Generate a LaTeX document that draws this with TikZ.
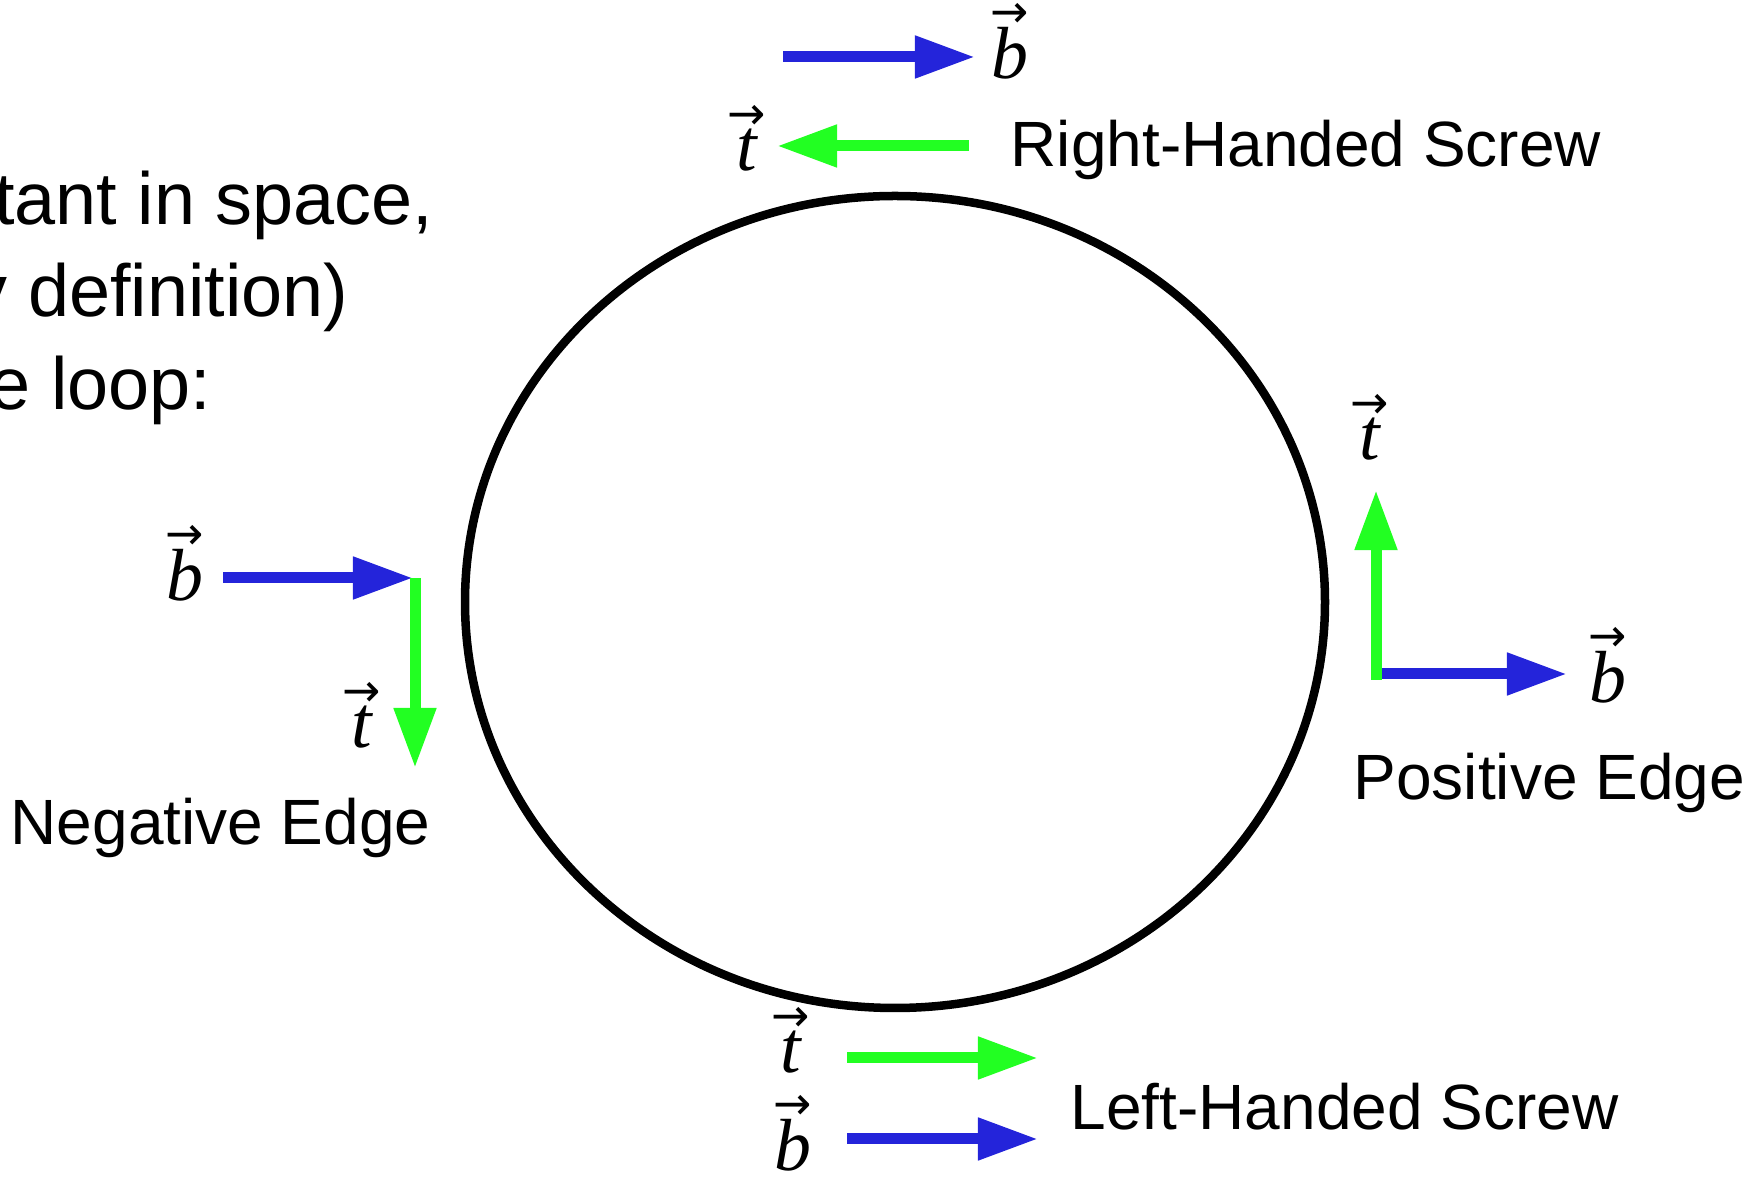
\documentclass[tikz,border=0pt]{standalone}
\usepackage{fontspec}
\setmainfont{Liberation Sans}
\newfontfamily\vecfont{Liberation Serif}
\newfontfamily\flechefont{DejaVu Sans}
\usetikzlibrary{arrows.meta}
\definecolor{cbleu}{RGB}{36,36,218}
\definecolor{cvert}{RGB}{34,255,34}
\newsavebox\lettrebox
\newcommand{\vlab}[1]{\sbox\lettrebox{\vecfont\itshape #1}%
  \rlap{\makebox[\wd\lettrebox]{\raisebox{\ht\lettrebox}{\flechefont\fontsize{13}{13}\selectfont →}}}%
  \usebox\lettrebox}

\begin{document}
\begin{tikzpicture}[x=0.01cm, y=-0.01cm, >={Triangle[length=6mm,width=4mm]},
  fleche/.style={->, line width=1.1mm},
  etiq/.style={inner sep=0pt, anchor=base, font=\fontsize{21}{25}\selectfont},
  titre/.style={inner sep=0pt, anchor=base west, font=\fontsize{18.2}{22}\selectfont},
  texte/.style={inner sep=0pt, anchor=base east, font=\fontsize{21}{25}\selectfont}]
\useasboundingbox (0,0) rectangle (1751,1177);
\clip (0,0) rectangle (1751,1177);
% texte coupé (haut gauche)
\node[texte] (ligne1) at (434,225) {tant in space,};
\node[texte] (ligne2) at (349,317) {y definition)};
\node[texte] (ligne3) at (212,410) {e loop:};
% boucle
\draw[line width=0.85mm] (895,602) ellipse [x radius=430, y radius=406];
% vis à droite (haut)
\coordinate (hb0) at (783,57); \coordinate (hb1) at (975,57);
\coordinate (ht0) at (969,146); \coordinate (ht1) at (777,146);
\draw[fleche, cbleu] (hb0) -- (hb1);
\draw[fleche, cvert] (ht0) -- (ht1);
\node[etiq] (hbl) at (1010,79) {\vlab{b}};
\node[etiq] (htl) at (747,171) {\vlab{t}};
\node[titre] (vdroite) at (1010,167) {Right-Handed Screw};
% bord négatif (gauche)
\coordinate (gb0) at (223,578); \coordinate (gb1) at (413,578);
\coordinate (gt0) at (415,578); \coordinate (gt1) at (415,768);
\draw[fleche, cbleu] (gb0) -- (gb1);
\draw[fleche, cvert] (gt0) -- (gt1);
\node[etiq] (gbl) at (185,601) {\vlab{b}};
\node[etiq] (gtl) at (362,748) {\vlab{t}};
\node[titre] (negatif) at (10,845) {Negative Edge};
% bord positif (droite)
\coordinate (dc) at (1376,674); \coordinate (db1) at (1567,674);
\coordinate (dt0) at (1376,680); \coordinate (dt1) at (1376,490);
\draw[fleche, cbleu] (dc) -- (db1);
\draw[fleche, cvert] (dt0) -- (dt1);
\node[etiq] (dtl) at (1370,460) {\vlab{t}};
\node[etiq] (dbl) at (1608,703) {\vlab{b}};
\node[titre] (positif) at (1353,800) {Positive Edge};
% vis à gauche (bas)
\coordinate (bt0) at (847,1058); \coordinate (bt1) at (1038,1058);
\coordinate (bb0) at (847,1139); \coordinate (bb1) at (1038,1139);
\draw[fleche, cvert] (bt0) -- (bt1);
\draw[fleche, cbleu] (bb0) -- (bb1);
\node[etiq] (btl) at (791,1073) {\vlab{t}};
\node[etiq] (bbl) at (793,1171) {\vlab{b}};
\node[titre] (vgauche) at (1070,1130) {Left-Handed Screw};
\end{tikzpicture}
\end{document}
